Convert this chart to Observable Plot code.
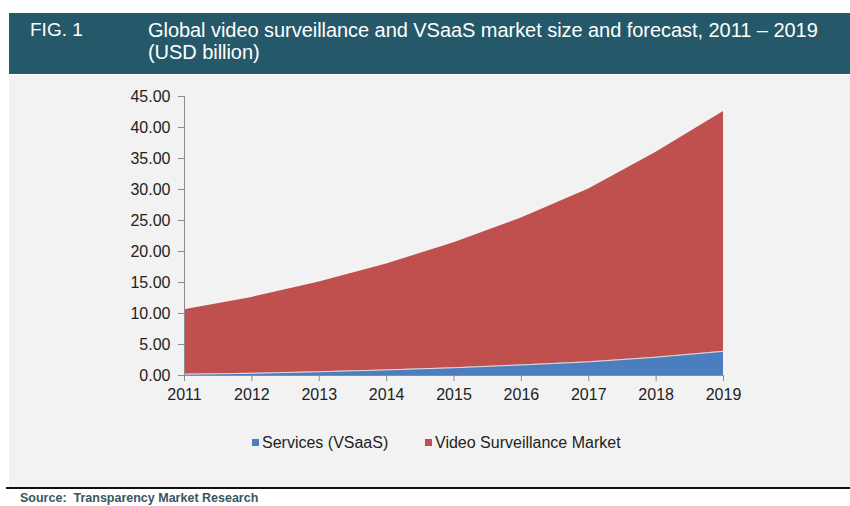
<!DOCTYPE html>
<html>
<head>
<meta charset="utf-8">
<script src="https://cdn.jsdelivr.net/npm/d3@7"></script>
<script src="https://cdn.jsdelivr.net/npm/@observablehq/plot@0.6"></script>
<style>
  html, body { margin: 0; padding: 0; background: #fff; width: 850px; height: 506px; overflow: hidden; font-family: "Liberation Sans", Arial, sans-serif; }
  #page { position: relative; width: 850px; height: 506px; }
  #header { position: absolute; left: 9px; top: 13px; width: 841px; height: 61px; background: #255869; color: #fff; }
  #fig { position: absolute; left: 21px; top: 6px; font-size: 19px; line-height: 22px; }
  #title { position: absolute; left: 139px; top: 6px; font-size: 20px; line-height: 22px; letter-spacing: -0.05px; }
  #panel { position: absolute; left: 9px; top: 75px; width: 841px; height: 412px; background: #f2f2f2; }
  #chart { position: absolute; left: -9px; top: 3px; }
  #legend { position: absolute; left: 0; top: 359px; width: 850px; font-size: 16px; color: #222; }
  #legend .item { position: absolute; top: 0; white-space: nowrap; }
  #legend .sw { display: inline-block; width: 7px; height: 7px; margin-right: 3px; vertical-align: 2px; }
  #rule { position: absolute; left: 6px; top: 487px; width: 844px; height: 2px; background: #111; }
  #source { position: absolute; left: 20px; top: 491px; font-size: 12.5px; line-height: 14px; font-weight: bold; color: #3b5560; }
</style>
</head>
<body>
<div id="page">
  <div id="header">
    <div id="fig">FIG. 1</div>
    <div id="title">Global video surveillance and VSaaS market size and forecast, 2011 – 2019<br>(USD billion)</div>
  </div>
  <div id="panel">
    <div id="chart"></div>
    <div id="legend"></div>
  </div>
  <div id="rule"></div>
  <div id="source">Source:&nbsp; Transparency Market Research</div>
</div>
<script>
const years = [2011, 2012, 2013, 2014, 2015, 2016, 2017, 2018, 2019];
const services = [0.2, 0.35, 0.6, 0.9, 1.25, 1.7, 2.2, 2.95, 3.9];
const videoMarket = [10.4, 12.25, 14.5, 17.1, 20.15, 23.7, 27.9, 33.05, 38.7];
const seriesNames = ["Services (VSaaS)", "Video Surveillance Market"];
const seriesColors = ["#4a7ebf", "#c0504d"];
const yTicks = [0, 5, 10, 15, 20, 25, 30, 35, 40, 45];

const rows = [];
years.forEach((y, i) => rows.push({year: y, series: seriesNames[0], value: services[i]}));
years.forEach((y, i) => rows.push({year: y, series: seriesNames[1], value: videoMarket[i]}));
const boundary = years.map((y, i) => ({year: y, value: services[i]}));

const chart = Plot.plot({
  width: 850,
  height: 340,
  marginLeft: 184,
  marginRight: 127,
  marginTop: 18,
  marginBottom: 43,
  style: {background: "transparent", fontFamily: "'Liberation Sans', Arial, sans-serif", fontSize: "16px", color: "#222"},
  x: {domain: [2011, 2019], axis: null, label: null},
  y: {domain: [0, 45], axis: null, label: null},
  color: {domain: seriesNames, range: seriesColors},
  marks: [
    Plot.areaY(rows, {x: "year", y: "value", fill: "series", order: seriesNames}),
    Plot.lineY(boundary, {x: "year", y: "value", stroke: "#eed8d8", strokeWidth: 1}),
    Plot.ruleX([2011], {y1: 0, y2: 45, stroke: "#8c8c8c", strokeWidth: 1}),
    Plot.ruleY([0], {stroke: "#8c8c8c", strokeWidth: 1}),
    Plot.axisY(yTicks, {anchor: "left", label: null, tickSize: 6, tickPadding: 8, stroke: "#8c8c8c", tickFormat: d => d.toFixed(2), fill: "#222", fontSize: 16}),
    Plot.axisX(years, {anchor: "bottom", label: null, tickSize: 6, tickPadding: 7, stroke: "#8c8c8c", tickFormat: d => String(d), fill: "#222", fontSize: 16})
  ]
});
document.getElementById("chart").appendChild(chart);

const legend = document.getElementById("legend");
const legendX = [243, 416];
seriesNames.forEach((n, i) => {
  const it = document.createElement("div");
  it.className = "item";
  it.style.left = legendX[i] + "px";
  it.innerHTML = `<span class="sw" style="background:${seriesColors[i]}"></span>${n}`;
  legend.appendChild(it);
});
</script>
</body>
</html>
